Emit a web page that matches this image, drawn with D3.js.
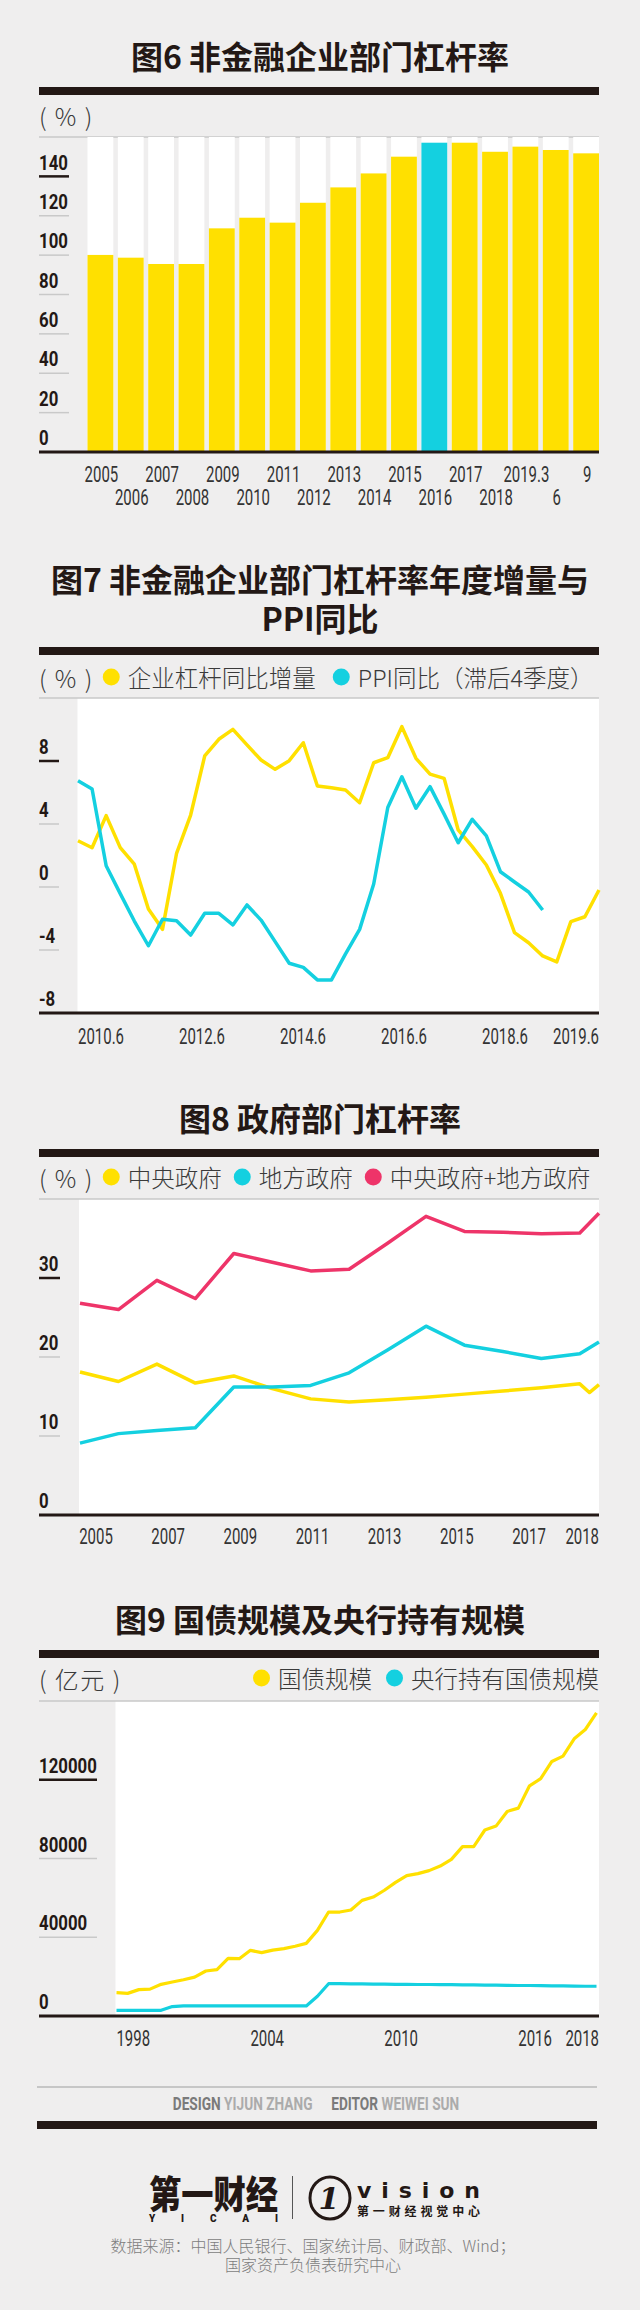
<!DOCTYPE html>
<html>
<head>
<meta charset="utf-8">
<script src="https://cdn.jsdelivr.net/npm/d3@7"></script>
<style>
  body { margin: 0; background: #efeeee; }
  svg { display: block; }
  .cjk { font-family: "Noto Sans CJK SC", "Noto Sans", sans-serif; }
  .num { font-family: Roboto, "Liberation Sans", sans-serif; }
</style>
</head>
<body>
<svg id="chart" width="640" height="2310"></svg>
<script>
// ---- fig 6: non-financial corporate leverage (%)
const years6 = ["2005","2006","2007","2008","2009","2010","2011","2012","2013","2014","2015","2016","2017","2018","2019.3","6","9"];
const leverage6 = [100.1, 98.7, 95.5, 95.5, 113.6, 119.0, 116.5, 126.6, 134.4, 141.5, 150.0, 157.1, 157.1, 152.5, 155.1, 153.4, 151.7];
const ticks6 = [0, 20, 40, 60, 80, 100, 120, 140];

// ---- fig 7: yearly change of corporate leverage vs PPI (lagged 4 quarters)
const quarters7 = ("2010.3 2010.6 2010.9 2010.12 2011.3 2011.6 2011.9 2011.12 2012.3 2012.6 2012.9 2012.12 " +
  "2013.3 2013.6 2013.9 2013.12 2014.3 2014.6 2014.9 2014.12 2015.3 2015.6 2015.9 2015.12 " +
  "2016.3 2016.6 2016.9 2016.12 2017.3 2017.6 2017.9 2017.12 2018.3 2018.6 2018.9 2018.12 2019.3 2019.6").split(" ");
const corpDelta7 = [2.94, 2.49, 4.53, 2.5, 1.45, -1.40, -2.69, 2.14, 4.57, 8.32, 9.38, 10.01, 9.02, 8.06, 7.47, 8.02,
  9.16, 6.41, 6.30, 6.16, 5.35, 7.89, 8.21, 10.18, 8.17, 7.17, 6.90, 3.62, 2.56, 1.40, -0.40, -2.90, -3.54, -4.38,
  -4.76, -2.20, -1.89, -0.19];
const ppi7 = [6.75, 6.22, 1.35, -0.42, -2.16, -3.73, -2.05, -2.14, -3.05, -1.67, -1.67, -2.41, -1.14, -2.10, -3.47,
  -4.84, -5.10, -5.90, -5.90, -4.25, -2.69, 0.19, 5.05, 7.00, 5.00, 6.37, 4.63, 2.81, 4.30, 3.24, 0.97, 0.32, -0.32, -1.46];
const xLabels7 = ["2010.6", "2012.6", "2014.6", "2016.6", "2018.6", "2019.6"];
const ticks7 = [-8, -4, 0, 4, 8];
const legend7 = ["企业杠杆同比增量", "PPI同比（滞后4季度）"];

// ---- fig 8: government leverage (%)
const periods8 = ["2005","2006","2007","2008","2009","2010","2011","2012","2013","2014","2015","2016","2017","2018","2018.6","2018.9"];
const central8 = [18.1, 16.9, 19.1, 16.7, 17.6, 16.0, 14.7, 14.3, 14.6, 14.9, 15.3, 15.7, 16.1, 16.6, 15.5, 16.5];
const local8 = [9.1, 10.3, 10.7, 11.05, 16.2, 16.2, 16.4, 18.0, 20.9, 23.9, 21.5, 20.7, 19.8, 20.4, null, 21.9];
const total8 = [26.8, 26.0, 29.7, 27.4, 33.1, 32.0, 30.9, 31.1, 34.4, 37.8, 35.9, 35.8, 35.6, 35.7, null, 38.2];
const xLabels8 = ["2005", "2007", "2009", "2011", "2013", "2015", "2017", "2018"];
const ticks8 = [0, 10, 20, 30];
const legend8 = ["中央政府", "地方政府", "中央政府+地方政府"];

// ---- fig 9: treasury bonds outstanding vs held by central bank (100m yuan)
const halfYears9 = ("1997H2 1998H1 1998H2 1999H1 1999H2 2000H1 2000H2 2001H1 2001H2 2002H1 2002H2 2003H1 2003H2 " +
  "2004H1 2004H2 2005H1 2005H2 2006H1 2006H2 2007H1 2007H2 2008H1 2008H2 2009H1 2009H2 2010H1 2010H2 " +
  "2011H1 2011H2 2012H1 2012H2 2013H1 2013H2 2014H1 2014H2 2015H1 2015H2 2016H1 2016H2 2017H1 2017H2 " +
  "2018H1 2018H2 2019H1").split(" ");
const bonds9 = [11860, 11490, 13390, 13640, 16090, 17270, 18430, 19760, 22860, 23540, 29290, 29120, 33350, 32170,
  33440, 34200, 35450, 36900, 43500, 52810, 52810, 53820, 58730, 60420, 63870, 67870, 71300, 72330, 73840, 76160,
  79580, 86040, 85990, 94480, 96460, 103910, 105600, 116930, 120540, 129290, 131990, 140790, 145530, 153990];
const pbocHold9 = [2900, 2900, 2900, 2900, 2900, 4800, 5100, 5100, 5100, 5100, 5100, 5100, 5100, 5100, 5100, 5100,
  5100, 5100, 10000, 16400, 16400, 16300, 16300, 16200, 16200, 16100, 16100, 16000, 16000, 15900, 15900, 15800,
  15800, 15700, 15700, 15600, 15500, 15500, 15400, 15300, 15300, 15200, 15100, 15100];
const xLabels9 = ["1998", "2004", "2010", "2016", "2018"];
const ticks9 = [0, 40000, 80000, 120000];
const legend9 = ["国债规模", "央行持有国债规模"];

const sourceLines = ["数据来源：中国人民银行、国家统计局、财政部、Wind；", "国家资产负债表研究中心"];

const INK = "#231815", YEL = "#ffe000", CYAN = "#14d0e0", PINK = "#ee3469", GREY = "#c9c9c9", TXT = "#3a3a3a";
const L = 39, R = 599;

const svg = d3.select("#chart");

// condensed number text: no narrow face is installed, so squeeze horizontally
function numText(x, y, t, opts) {
  const o = Object.assign({ size: 21, weight: 400, fill: TXT, anchor: "middle", k: 0.7 }, opts);
  return svg.append("text").attr("class", "num")
    .attr("transform", `translate(${x},${y}) scale(${o.k},1)`)
    .attr("dominant-baseline", "central").attr("text-anchor", o.anchor)
    .attr("font-size", o.size).attr("font-weight", o.weight).attr("fill", o.fill)
    .text(t);
}

// several lines in one text element, centred on x
function block(x, y, lines, lineH, size, weight, fill) {
  const t = svg.append("text").attr("class", "cjk")
    .attr("text-anchor", "middle")
    .attr("font-size", size).attr("font-weight", weight).attr("fill", fill);
  lines.forEach((s, i) => {
    t.append("tspan").attr("x", x).attr("y", y + i * lineH)
      .attr("dominant-baseline", "central").text(s);
  });
  return t;
}

function title(lines, y) {
  block(320, y, lines, 39, 32, 700, INK);
}

function rule(y) {
  svg.append("rect").attr("x", L).attr("y", y).attr("width", R - L).attr("height", 8).attr("fill", INK);
}

function unitText(y, unit) {
  return svg.append("text").attr("class", "cjk")
    .attr("x", L).attr("y", y).attr("dominant-baseline", "central")
    .attr("font-size", 24).attr("font-weight", 300).attr("fill", TXT)
    .attr("letter-spacing", 1.5).text(unit);
}

function legend(y, unit, items, colors, gap, alignRight) {
  const uw = unitText(y, unit).node().getComputedTextLength();
  const g = svg.append("g");
  let cx = 0;
  items.forEach((name, i) => {
    g.append("circle").attr("cx", cx + 8.5).attr("cy", y).attr("r", 8.5).attr("fill", colors[i]);
    const t = g.append("text").attr("class", "cjk")
      .attr("x", cx + 25).attr("y", y).attr("dominant-baseline", "central")
      .attr("font-size", 23.5).attr("font-weight", 300).attr("fill", TXT)
      .text(name);
    cx += 25 + t.node().getComputedTextLength() + gap;
  });
  const total = cx - gap;
  g.attr("transform", `translate(${alignRight ? R - total : L + uw + 9},0)`);
}

function frame(top, bottom, plotLeft) {
  svg.append("rect").attr("x", plotLeft).attr("y", top)
    .attr("width", R - plotLeft).attr("height", bottom - top).attr("fill", "#fff");
  svg.append("line").attr("x1", L).attr("x2", R).attr("y1", top).attr("y2", top)
    .attr("stroke", GREY).attr("stroke-width", 1.5);
}

function yTicks(y, ticks, len) {
  const top = d3.max(ticks);
  ticks.forEach(t => {
    if (t !== ticks[0]) {
      svg.append("line").attr("x1", L).attr("x2", L + len)
        .attr("y1", y(t)).attr("y2", y(t))
        .attr("stroke", t === top ? INK : GREY)
        .attr("stroke-width", t === top ? 2.5 : 1.5);
    }
    numText(L, y(t) - 14, t, { size: 21, weight: 700, fill: INK, anchor: "start", k: 0.8 });
  });
}

function baseline(y) {
  svg.append("line").attr("x1", L).attr("x2", R).attr("y1", y).attr("y2", y)
    .attr("stroke", INK).attr("stroke-width", 3);
}

function xLabel(x, y, t, anchor) {
  numText(x, y, t, { size: 22, fill: "#333", anchor: anchor || "middle", k: 0.68 });
}

function drawLine(xs, ys, x, y, color, width) {
  const pts = xs.map((d, i) => [d, ys[i]]).filter(p => p[1] !== null);
  svg.append("path").datum(pts)
    .attr("fill", "none").attr("stroke", color).attr("stroke-width", width)
    .attr("stroke-linejoin", "round")
    .attr("d", d3.line().x(p => x(p[0])).y(p => y(p[1])));
}

// ================= fig 6 =================
title(["图6 非金融企业部门杠杆率"], 55);
rule(87);
unitText(115, "( % )");

const y6 = d3.scaleLinear().domain([0, 160]).range([452, 137]);
const x6 = d3.scaleBand().domain(years6).range([87.5, R]).paddingInner(0.15).paddingOuter(0);
svg.append("line").attr("x1", L).attr("x2", R).attr("y1", 137).attr("y2", 137)
  .attr("stroke", GREY).attr("stroke-width", 1.5);
svg.selectAll(".col6").data(years6).enter().append("rect")
  .attr("x", d => x6(d)).attr("y", y6(160))
  .attr("width", x6.bandwidth()).attr("height", y6(0) - y6(160))
  .attr("fill", "#fff");
yTicks(y6, ticks6, 30);
svg.selectAll(".bar6").data(years6).enter().append("rect")
  .attr("x", d => x6(d)).attr("y", (d, i) => y6(leverage6[i]))
  .attr("width", x6.bandwidth()).attr("height", (d, i) => y6(0) - y6(leverage6[i]))
  .attr("fill", d => d === "2016" ? CYAN : YEL);
baseline(452);
years6.forEach((d, i) => xLabel(x6(d) + x6.bandwidth() / 2 + 1, i % 2 ? 498 : 475, d));

// ================= fig 7 =================
title(["图7 非金融企业部门杠杆率年度增量与", "PPI同比"], 578);
rule(647);
legend(677, "( % )", legend7, [YEL, CYAN], 17, false);

const y7 = d3.scaleLinear().domain([-8, 12]).range([1013, 698]);
const x7 = d3.scalePoint().domain(quarters7).range([78, R]);
frame(698, 1013, 77.5);
yTicks(y7, ticks7, 20);
drawLine(quarters7, corpDelta7, x7, y7, YEL, 3.5);
drawLine(quarters7.slice(0, ppi7.length), ppi7, x7, y7, CYAN, 3.5);
baseline(1013);
const lab7 = d3.scalePoint().domain(xLabels7.slice(0, 5)).range([77.5 + 23.5, R - 94]);
xLabels7.forEach((d, i) => i < 5 ? xLabel(lab7(d), 1037, d) : xLabel(R, 1037, d, "end"));

// ================= fig 8 =================
title(["图8 政府部门杠杆率"], 1117);
rule(1149);
legend(1177, "( % )", legend8, [YEL, CYAN, PINK], 12, false);

const t8 = d => { const [yr, m] = d.split("."); return +yr + (m ? (+m - 3) / 12 : 0); };
const y8 = d3.scaleLinear().domain([0, 40]).range([1515, 1199]);
const x8 = d3.scaleLinear().domain([t8(periods8[0]), t8(periods8[periods8.length - 1])]).range([80, R]);
frame(1199, 1515, 79);
yTicks(y8, ticks8, 21);
const tt8 = periods8.map(t8);
drawLine(tt8, central8, x8, y8, YEL, 3.5);
drawLine(tt8, local8, x8, y8, CYAN, 3.5);
drawLine(tt8, total8, x8, y8, PINK, 3.5);
baseline(1515);
const lab8 = d3.scalePoint().domain(xLabels8.slice(0, 7)).range([79 + 17, R - 70]);
xLabels8.forEach((d, i) => i < 7 ? xLabel(lab8(d), 1537, d) : xLabel(R, 1537, d, "end"));

// ================= fig 9 =================
title(["图9 国债规模及央行持有规模"], 1618);
rule(1650);
legend(1678, "( 亿元 )", legend9, [YEL, CYAN], 14, true);

const y9 = d3.scaleLinear().domain([0, 160000]).range([2016, 1701]);
const x9 = d3.scalePoint().domain(halfYears9).range([116.5, 596.5]);
frame(1701, 2016, 115.5);
yTicks(y9, ticks9, 58);
drawLine(halfYears9, bonds9, x9, y9, YEL, 3.2);
drawLine(halfYears9, pbocHold9, x9, y9, CYAN, 3.2);
baseline(2016);
xLabels9.forEach((d, i) => {
  const mid = (x9(d + "H1") + x9(d + "H2")) / 2;
  i < xLabels9.length - 1 ? xLabel(mid, 2039, d) : xLabel(R, 2039, d, "end");
});

// ================= footer =================
svg.append("line").attr("x1", 37).attr("x2", 597).attr("y1", 2087).attr("y2", 2087)
  .attr("stroke", "#b8b8b8").attr("stroke-width", 1.5);
const cred = numText(316, 2103, null, { size: 19, weight: 700, k: 0.72 });
cred.append("tspan").attr("fill", "#7a7a7a").text("DESIGN ");
cred.append("tspan").attr("fill", "#ababab").text("YIJUN ZHANG");
cred.append("tspan").attr("fill", "#7a7a7a").attr("dx", 26).text("EDITOR ");
cred.append("tspan").attr("fill", "#ababab").text("WEIWEI SUN");
svg.append("rect").attr("x", 37).attr("y", 2121).attr("width", 560).attr("height", 8).attr("fill", INK);

// logos
const logo = svg.append("text").attr("class", "cjk").attr("font-weight", 900).attr("fill", INK);
logo.append("tspan").attr("x", 149).attr("y", 2208).attr("font-size", 38)
  .attr("textLength", 129).attr("lengthAdjust", "spacingAndGlyphs").text("第一财经");
logo.append("tspan").attr("x", 149).attr("y", 2222).attr("font-size", 10)
  .attr("font-family", "Roboto, sans-serif")
  .attr("textLength", 129).attr("lengthAdjust", "spacing").text("YICAI");
svg.append("line").attr("x1", 292.5).attr("x2", 292.5).attr("y1", 2176).attr("y2", 2219)
  .attr("stroke", "#555").attr("stroke-width", 1);
svg.append("ellipse").attr("cx", 330).attr("cy", 2198).attr("rx", 20).attr("ry", 21)
  .attr("fill", "none").attr("stroke", INK).attr("stroke-width", 3);
const vis = svg.append("text").attr("font-weight", 700).attr("fill", INK);
vis.append("tspan").attr("x", 329).attr("y", 2209).attr("text-anchor", "middle")
  .attr("font-family", "DejaVu Serif, serif").attr("font-style", "italic")
  .attr("font-size", 30).text("1");
vis.append("tspan").attr("x", 357).attr("y", 2198)
  .attr("font-family", "DejaVu Sans, sans-serif").attr("font-size", 22)
  .attr("textLength", 123).attr("lengthAdjust", "spacing").text("vision");
vis.append("tspan").attr("x", 357).attr("y", 2216)
  .attr("font-family", "Noto Sans CJK SC, sans-serif").attr("font-size", 12)
  .attr("textLength", 123).attr("lengthAdjust", "spacing").text("第一财经视觉中心");

block(313, 2245, sourceLines, 19, 16, 300, "#7d7d7d");
</script>
</body>
</html>
